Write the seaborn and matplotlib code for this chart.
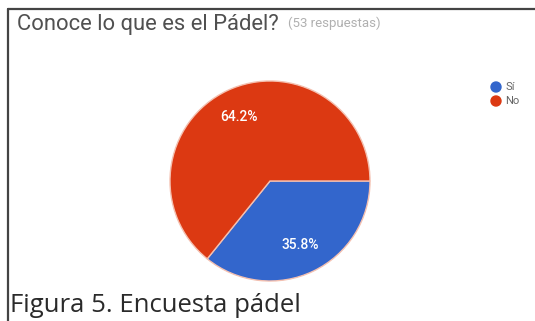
import matplotlib
matplotlib.use("Agg")
import matplotlib.pyplot as plt
import seaborn as sns

categories = ["Sí", "No"]
values = [35.8, 64.2]
colors = ["#3366CC", "#DC3912"]
title = "Conoce lo que es el Pádel?"
subtitle = "(53 respuestas)"
caption = "Figura 5. Encuesta pádel"

sns.set_theme(style="white")
plt.rcParams['font.family'] = ['Roboto', 'DejaVu Sans']

W, H = 535, 321
fig = plt.figure(figsize=(W / 100, H / 100), dpi=100)
fig.patch.set_facecolor("white")

# pie axes
ax = fig.add_axes([170 / W, (H - 281) / H, 200 / W, 200 / H])
wedges, texts, autotexts = ax.pie(
    values, colors=colors, startangle=0, counterclock=False,
    autopct="%1.1f%%", pctdistance=0.71,
    wedgeprops=dict(edgecolor="#f4c0b0", linewidth=1.0),
    textprops=dict(color="white", fontsize=10, fontweight="medium"))
ax.set_xlim(-1, 1)
ax.set_ylim(-1, 1)
ax.set_aspect("auto")
ax.axis("off")

# frame lines
fig.add_artist(plt.Line2D([8 / W, 8 / W], [0, 1 - 9 / H], transform=fig.transFigure,
                          color="#444444", linewidth=1.6))
fig.add_artist(plt.Line2D([8 / W, 1], [1 - 9 / H, 1 - 9 / H], transform=fig.transFigure,
                          color="#444444", linewidth=1.6))

# title
fig.text(17 / W, 1 - 30 / H, title, fontsize=15.8, color="#505050",
         ha="left", va="baseline")
fig.text(288 / W, 1 - 27 / H, subtitle, fontsize=9.5, color="#b0b0b0",
         ha="left", va="baseline")

# legend
for i, (cat, col) in enumerate(zip(categories, colors)):
    y = 87 + 14 * i
    fig.add_artist(matplotlib.patches.Ellipse((496 / W, 1 - y / H), 10 / W, 10 / H,
                                              transform=fig.transFigure, color=col))
    fig.text(505 / W, 1 - y / H, cat, fontsize=8, color="#666666",
             ha="left", va="center")

# caption
fig.text(10 / W, 1 - 312 / H, caption, fontsize=18.5, color="#2a2a2a",
         family=["Open Sans", "DejaVu Sans"], ha="left", va="baseline")

fig.savefig("out.png", dpi=100, facecolor="white")
